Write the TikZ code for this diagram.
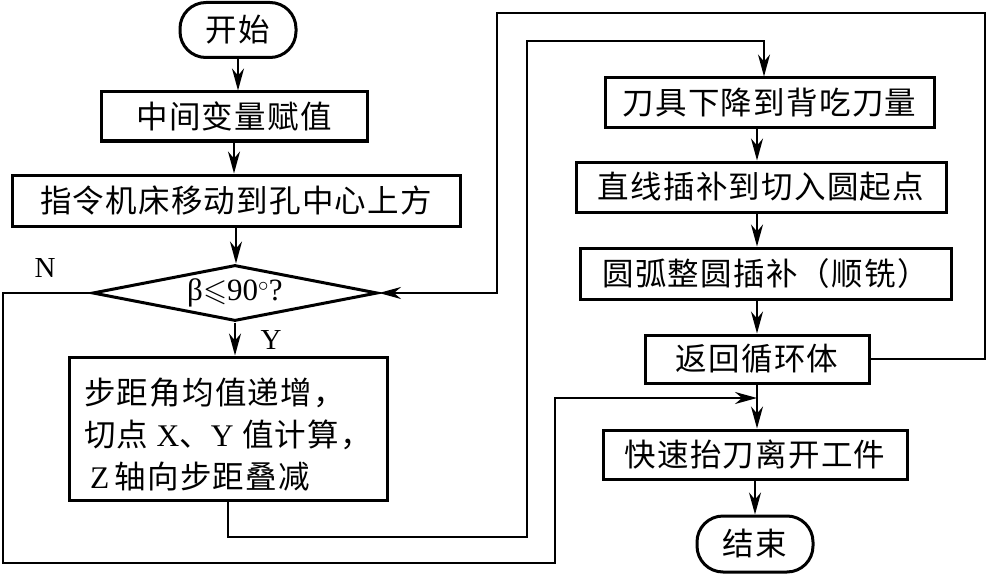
\documentclass[tikz,border=0pt]{standalone}
\usepackage{amssymb}
\usepackage{fontspec}
\setmainfont{Liberation Serif}
\newfontfamily\cjk[LetterSpace=4]{Noto Sans CJK SC}
\usetikzlibrary{arrows.meta,positioning,shapes.geometric,calc}
\tikzset{proc/.style={draw,line width=3pt,minimum height=50pt,inner sep=0pt,font=\cjk\fontsize{31.5}{42}\selectfont},term/.style={proc,rounded corners=26pt,minimum width=116pt,minimum height=55pt},test/.style={draw,diamond,line width=3pt,aspect=5,inner sep=0pt,minimum width=285pt,minimum height=56pt,font=\fontsize{31}{36}\selectfont},flow/.style={-{Stealth[length=22pt,width=12pt,inset=7pt]},line width=2pt},lbl/.style={font=\fontsize{29}{32}\selectfont}}

\begin{document}
\begin{tikzpicture}[x=1pt,y=-1pt]
\useasboundingbox (0,0) rectangle (990,575);
% left column
\node[term] (start) at (238,30) {开始};
\node[proc,minimum width=266pt,minimum height=49pt] (init) at (234,116.5) {中间变量赋值};
\node[proc,minimum width=448pt,minimum height=51pt] (move) at (236,200.5) {指令机床移动到孔中心上方};
\node[test] (dec) at (235,293) {β$\leqslant$90$^{\circ}$?};
\node[proc,minimum width=318pt,minimum height=143pt,align=left] (step) at (228,428.5) {\rule{0pt}{38pt}步距角均值递增，\\切点\ {\rmfamily X}、{\rmfamily Y}\ 值计算，\\\hspace{6pt}{\rmfamily Z}\,轴向步距叠减};
\node[lbl] (nlab) at (45,268) {N};
\node[lbl] (ylab) at (271,340) {Y};
% right column
\node[proc,minimum width=329pt] (cut) at (769.5,103) {刀具下降到背吃刀量};
\node[proc,minimum width=370pt] (line) at (761,187) {直线插补到切入圆起点};
\node[proc,minimum width=371pt,minimum height=51pt] (arc) at (765.5,273.5) {圆弧整圆插补（顺铣）};
\node[proc,minimum width=224pt,minimum height=48pt] (ret) at (757,359) {返回循环体};
\node[proc,minimum width=304pt,minimum height=49pt] (fast) at (755,454.5) {快速抬刀离开工件};
\node[term,minimum height=56pt] (stop) at (755,544) {结束};
\coordinate (join) at (ret.south |- 0,398);
% arrows
\draw[flow] (start) -- (start |- init.north);
\draw[flow] (init) -- (init |- move.north);
\draw[flow] (move) -- (move |- dec.north);
\draw[flow] (dec.south) -- (dec.south |- step.north);
\draw[flow] (step.south) |- (527,537) -- (527,41) -| (cut.north -| 764,0);
\draw[flow] (cut.south -| ret) -- (line.north -| ret);
\draw[flow] (line.south -| ret) -- (arc.north -| ret);
\draw[flow] (arc.south -| ret) -- (ret.north);
\draw[flow] (ret.east) -| (985,13) -| (497,293) -- (dec.east);
\draw[flow] (ret.south) -- (ret.south |- fast.north);
\draw[flow] (dec.west) -| (3,563) -| (555,398) -- (join);
\draw[flow] (fast.south -| stop) -- (stop.north);
\end{tikzpicture}
\end{document}
